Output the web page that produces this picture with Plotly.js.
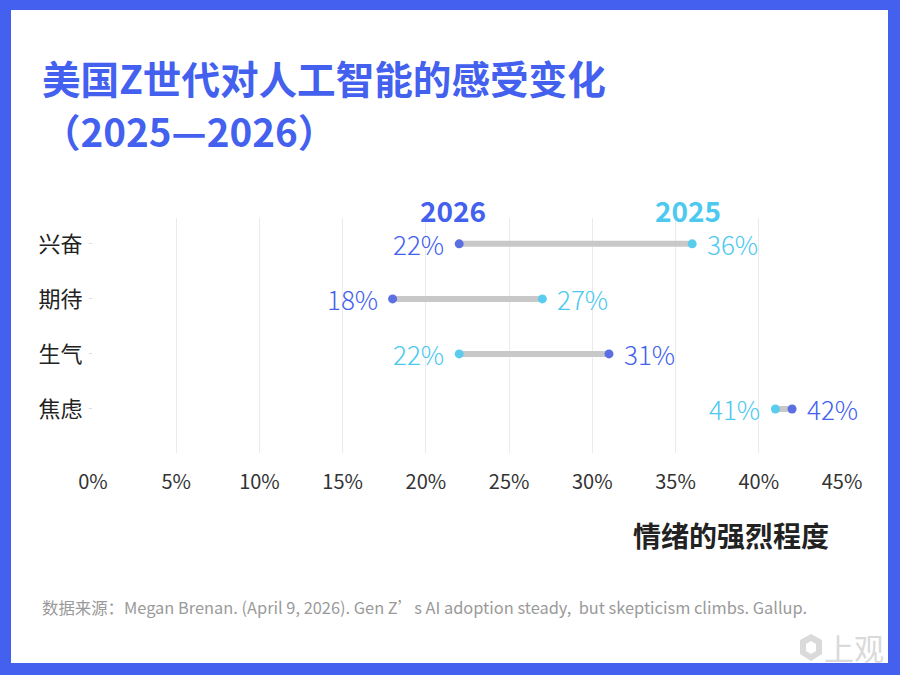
<!DOCTYPE html>
<html>
<head>
<meta charset="utf-8">
<script src="https://cdn.plot.ly/plotly-3.0.1.min.js"></script>
<style>
  html, body { margin: 0; padding: 0; background: #ffffff; }
  #chart { width: 900px; height: 675px; }
</style>
</head>
<body>
<div id="chart"></div>
<script>
// ---- data ----
const categories = ["兴奋", "期待", "生气", "焦虑"];
const values2025 = [36, 27, 22, 41];
const values2026 = [22, 18, 31, 42];
const seriesNames = ["2026", "2025"];
const xTickVals = [0, 5, 10, 15, 20, 25, 30, 35, 40, 45];
const xTickText = ["0%", "5%", "10%", "15%", "20%", "25%", "30%", "35%", "40%", "45%"];
const titleLine1 = "美国Z世代对人工智能的感受变化";
const titleLine2 = "（2025—2026）";
const axisTitle = "情绪的强烈程度";
const sourceText = "数据来源：Megan Brenan. (April 9, 2026). Gen Z’s AI adoption steady,  but skepticism climbs. Gallup.";
const logoText = "上观";

// ---- style ----
const FONT = "'Noto Sans CJK SC', 'Noto Sans', sans-serif";
const BLUE = "#4361EE";
const CYAN = "#4CC9F0";
const DOT_BLUE = "#5B6FE3";
const DOT_CYAN = "#5ACDEF";
const GRAY_LINE = "#C8C8C8";

// plot area in pixels
const L = 93, R = 842, T = 218, B = 453;
const W = R - L, H = B - T;
const px = v => (v - L) / W;
const py = v => (B - v) / H;

const traces = [];
// connectors
categories.forEach((c, i) => {
  traces.push({
    type: "scatter", mode: "lines",
    x: [values2025[i], values2026[i]], y: [c, c],
    line: { color: GRAY_LINE, width: 6 },
    hoverinfo: "skip", showlegend: false
  });
});
traces.push({
  type: "scatter", mode: "markers", name: seriesNames[1],
  x: values2025, y: categories,
  marker: { color: DOT_CYAN, size: 9 }, showlegend: false
});
traces.push({
  type: "scatter", mode: "markers", name: seriesNames[0],
  x: values2026, y: categories,
  marker: { color: DOT_BLUE, size: 9 }, showlegend: false
});

const annotations = [];
categories.forEach((c, i) => {
  const a = values2025[i], b = values2026[i];
  const aLeft = a < b;
  annotations.push({
    x: a, y: c, xref: "x", yref: "y", text: a + "%", showarrow: false,
    xanchor: aLeft ? "right" : "left", xshift: aLeft ? -13 : 13,
    font: { family: FONT, size: 26, weight: 300, color: CYAN }
  });
  annotations.push({
    x: b, y: c, xref: "x", yref: "y", text: b + "%", showarrow: false,
    xanchor: aLeft ? "left" : "right", xshift: aLeft ? 13 : -13,
    font: { family: FONT, size: 26, weight: 300, color: BLUE }
  });
});
// series headers above first row
annotations.push({
  x: values2026[0], y: py(210), xref: "x", yref: "paper", text: "<b>" + seriesNames[0] + "</b>",
  showarrow: false, xanchor: "center", yanchor: "middle", xshift: -6,
  font: { family: FONT, size: 28, color: BLUE }
});
annotations.push({
  x: values2025[0], y: py(210), xref: "x", yref: "paper", text: "<b>" + seriesNames[1] + "</b>",
  showarrow: false, xanchor: "center", yanchor: "middle", xshift: -4,
  font: { family: FONT, size: 28, color: CYAN }
});
// titles
annotations.push({
  x: px(40), y: py(77), xref: "paper", yref: "paper", text: "<b>" + titleLine1 + "</b>",
  showarrow: false, xanchor: "left", yanchor: "middle",
  font: { family: FONT, size: 38.6, color: BLUE }
});
annotations.push({
  x: px(40), y: py(130), xref: "paper", yref: "paper", text: "<b>" + titleLine2 + "</b>",
  showarrow: false, xanchor: "left", yanchor: "middle",
  font: { family: FONT, size: 38.6, color: BLUE }
});
// axis title
annotations.push({
  x: px(831), y: py(535), xref: "paper", yref: "paper", text: "<b>" + axisTitle + "</b>",
  showarrow: false, xanchor: "right", yanchor: "middle",
  font: { family: FONT, size: 28, color: "#222222" }
});
// source
annotations.push({
  x: px(40), y: py(607), xref: "paper", yref: "paper", text: sourceText,
  showarrow: false, xanchor: "left", yanchor: "middle",
  font: { family: FONT, size: 16.4, color: "#9A9A9A" }
});
// logo text
annotations.push({
  x: px(886), y: py(647), xref: "paper", yref: "paper", text: logoText,
  showarrow: false, xanchor: "right", yanchor: "middle",
  font: { family: FONT, size: 30, color: "#DADADA" }
});

const shapes = [
  // frame
  { type: "rect", xref: "paper", yref: "paper", x0: px(0), x1: px(900), y0: py(0), y1: py(10), fillcolor: BLUE, line: { width: 0 } },
  { type: "rect", xref: "paper", yref: "paper", x0: px(0), x1: px(11), y0: py(0), y1: py(675), fillcolor: BLUE, line: { width: 0 } },
  { type: "rect", xref: "paper", yref: "paper", x0: px(888), x1: px(900), y0: py(0), y1: py(675), fillcolor: BLUE, line: { width: 0 } },
  { type: "rect", xref: "paper", yref: "paper", x0: px(0), x1: px(900), y0: py(663), y1: py(675), fillcolor: BLUE, line: { width: 0 } },
  // logo hexagon
  {
    type: "path", xref: "paper", yref: "paper",
    path: "M " + px(811) + " " + py(634) + " L " + px(822) + " " + py(640) + " L " + px(822) + " " + py(654) +
          " L " + px(811) + " " + py(661) + " L " + px(800) + " " + py(654) + " L " + px(800) + " " + py(640) + " Z",
    fillcolor: "#DADADA", line: { width: 0 }
  },
  {
    type: "path", xref: "paper", yref: "paper",
    path: "M " + px(811) + " " + py(641) + " L " + px(816) + " " + py(644) + " L " + px(816) + " " + py(651) +
          " L " + px(811) + " " + py(654) + " L " + px(806) + " " + py(651) + " L " + px(806) + " " + py(644) + " Z",
    fillcolor: "#FFFFFF", line: { width: 0 }
  }
];

const layout = {
  width: 900, height: 675,
  margin: { l: L, r: 900 - R, t: T, b: 675 - B, pad: 0 },
  paper_bgcolor: "#ffffff", plot_bgcolor: "#ffffff",
  showlegend: false,
  font: { family: FONT },
  xaxis: {
    range: [0, 45], tickvals: xTickVals, ticktext: xTickText,
    showgrid: true, gridcolor: "#EBEBEB", gridwidth: 1, zeroline: false, showline: false,
    ticks: "", ticklabelstandoff: 15,
    tickfont: { family: FONT, size: 20, color: "#333333" }, fixedrange: true
  },
  yaxis: {
    type: "category", categoryorder: "array", categoryarray: categories,
    range: [3.8, -0.47],
    showgrid: false, zeroline: false, showline: false,
    ticks: "outside", ticklen: 3, tickcolor: "#DDDDDD", ticklabelstandoff: 2,
    tickfont: { family: FONT, size: 22, color: "#222222" }, fixedrange: true
  },
  annotations: annotations,
  shapes: shapes
};

Plotly.newPlot("chart", traces, layout, { displayModeBar: false, staticPlot: true });
</script>
</body>
</html>
